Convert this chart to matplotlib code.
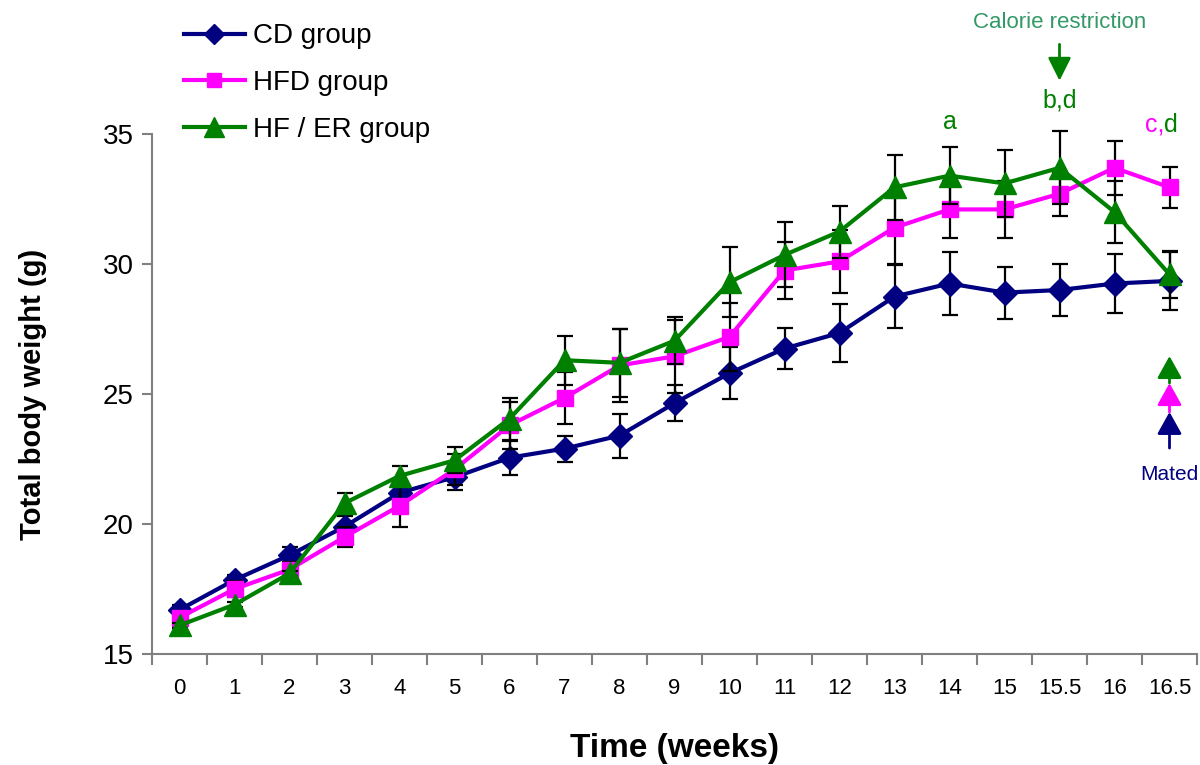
import numpy as np
import matplotlib
matplotlib.use("Agg")
import matplotlib.pyplot as plt
from matplotlib.lines import Line2D

plt.rcParams['font.family'] = ['Liberation Sans', 'DejaVu Sans']

# time points (weeks) as categories
weeks = ["0", "1", "2", "3", "4", "5", "6", "7", "8", "9", "10",
         "11", "12", "13", "14", "15", "15.5", "16", "16.5"]

cd_mean = [16.7, 17.85, 18.8, 19.9, 21.2, 21.8, 22.55, 22.9, 23.4, 24.65, 25.8,
           26.75, 27.35, 28.75, 29.25, 28.9, 29.0, 29.25, 29.35]
cd_err = [0.2, 0.2, 0.3, 0.4, 0.5, 0.5, 0.65, 0.5, 0.85, 0.7, 1.0,
          0.8, 1.1, 1.2, 1.2, 1.0, 1.0, 1.15, 1.1]

hfd_mean = [16.4, 17.5, 18.25, 19.5, 20.7, 22.1, 23.8, 24.85, 26.1, 26.45, 27.2,
            29.75, 30.1, 31.4, 32.1, 32.1, 32.7, 33.7, 32.95]
hfd_err = [0.2, 0.3, 0.3, 0.4, 0.8, 0.6, 0.9, 1.0, 1.4, 1.4, 1.3,
           1.1, 1.2, 1.4, 1.1, 1.1, 0.85, 1.05, 0.8]

er_mean = [16.1, 16.9, 18.1, 20.8, 21.85, 22.45, 24.05, 26.3, 26.2, 27.05, 29.3,
           30.35, 31.25, 32.95, 33.4, 33.1, 33.7, 32.0, 29.6]
er_err = [0.1, 0.1, 0.1, 0.4, 0.4, 0.5, 0.8, 0.95, 1.3, 0.9, 1.35,
          1.25, 1.0, 1.25, 1.1, 1.3, 1.4, 1.2, 0.9]

navy = "#000080"
pink = "#ff00ff"
green = "#008000"
grey = "#808080"

fig = plt.figure(figsize=(12, 7.65), dpi=100)
ax = fig.add_axes([0.1267, 0.1451, 0.8708, 0.6797])

x = np.arange(len(weeks))

series = [
    (cd_mean, cd_err, navy, "D", 12.5, "CD group"),
    (hfd_mean, hfd_err, pink, "s", 11.5, "HFD group"),
    (er_mean, er_err, green, "^", 16.5, "HF / ER group"),
]
handles = []
for i, (m, e, col, mk, ms, lab) in enumerate(series):
    ax.errorbar(x, m, yerr=e, fmt="none", ecolor="black", elinewidth=1.6,
                capsize=6, capthick=1.6, zorder=2 + 2 * i, clip_on=False)
    ax.plot(x, m, color=col, lw=3, marker=mk, ms=ms, mec=col, mfc=col,
            zorder=3 + 2 * i, clip_on=False)
    handles.append(Line2D([], [], color=col, lw=3, marker=mk, ms=ms * 0.85,
                          mec=col, mfc=col, label=lab))

ax.set_xlim(-0.5, len(weeks) - 0.5)
ax.set_ylim(15, 35)
ax.set_yticks([15, 20, 25, 30, 35])
ax.set_xticks(x)
ax.set_xticklabels(weeks)
ax.set_xticks(np.arange(-0.5, len(weeks)), minor=True)
ax.tick_params(axis="x", which="major", length=0, labelsize=16, pad=17)
ax.tick_params(axis="x", which="minor", length=8, color=grey, width=1.5)
ax.tick_params(axis="y", length=7, color=grey, width=1.5, labelsize=20, pad=6)

for s in ["top", "right"]:
    ax.spines[s].set_visible(False)
for s in ["left", "bottom"]:
    ax.spines[s].set_color(grey)
    ax.spines[s].set_linewidth(1.5)

ax.set_xlabel("Time (weeks)", fontsize=24, fontweight="bold", labelpad=25)
ax.set_ylabel("Total body weight (g)", fontsize=21, fontweight="bold", labelpad=40)

# legend
fig.legend(handles=handles, loc="upper left", bbox_to_anchor=(0.137, 0.995),
           frameon=False, fontsize=20, handlelength=2.2, handletextpad=0.3,
           labelspacing=0.75, borderaxespad=0.3)

# annotations
cr = weeks.index("15.5")
ax.text(cr, 39.3, "Calorie restriction", color="#339966", fontsize=16,
        ha="center", va="center", clip_on=False)
ax.annotate("", xy=(cr, 37.05), xytext=(cr, 38.45), xycoords="data",
            arrowprops=dict(arrowstyle="-|>,head_width=0.7,head_length=1.4",
                            color=green, lw=2, shrinkA=0, shrinkB=0),
            annotation_clip=False)
ax.text(cr, 36.3, "b,d", color=green, fontsize=18, ha="center", va="center")
ax.text(weeks.index("14"), 35.45, "a", color=green, fontsize=18,
        ha="center", va="center")
last = len(weeks) - 1
ax.text(last - 0.1, 35.35, "c,", color=pink, fontsize=18, ha="right", va="center")
ax.text(last - 0.1, 35.35, "d", color=green, fontsize=18, ha="left", va="center")

# mated arrows
mated = [(22.92, 24.31, navy), (24.31, 25.42, pink), (25.42, 26.46, green)]
for y0, y1, col in mated:
    ax.annotate("", xy=(last, y1), xytext=(last, y0),
                arrowprops=dict(arrowstyle="-|>,head_width=0.75,head_length=1.35",
                                color=col, lw=2, shrinkA=0, shrinkB=0))
ax.text(last, 21.9, "Mated", color=navy, fontsize=15, ha="center", va="center")

fig.savefig("out.png", dpi=100)
